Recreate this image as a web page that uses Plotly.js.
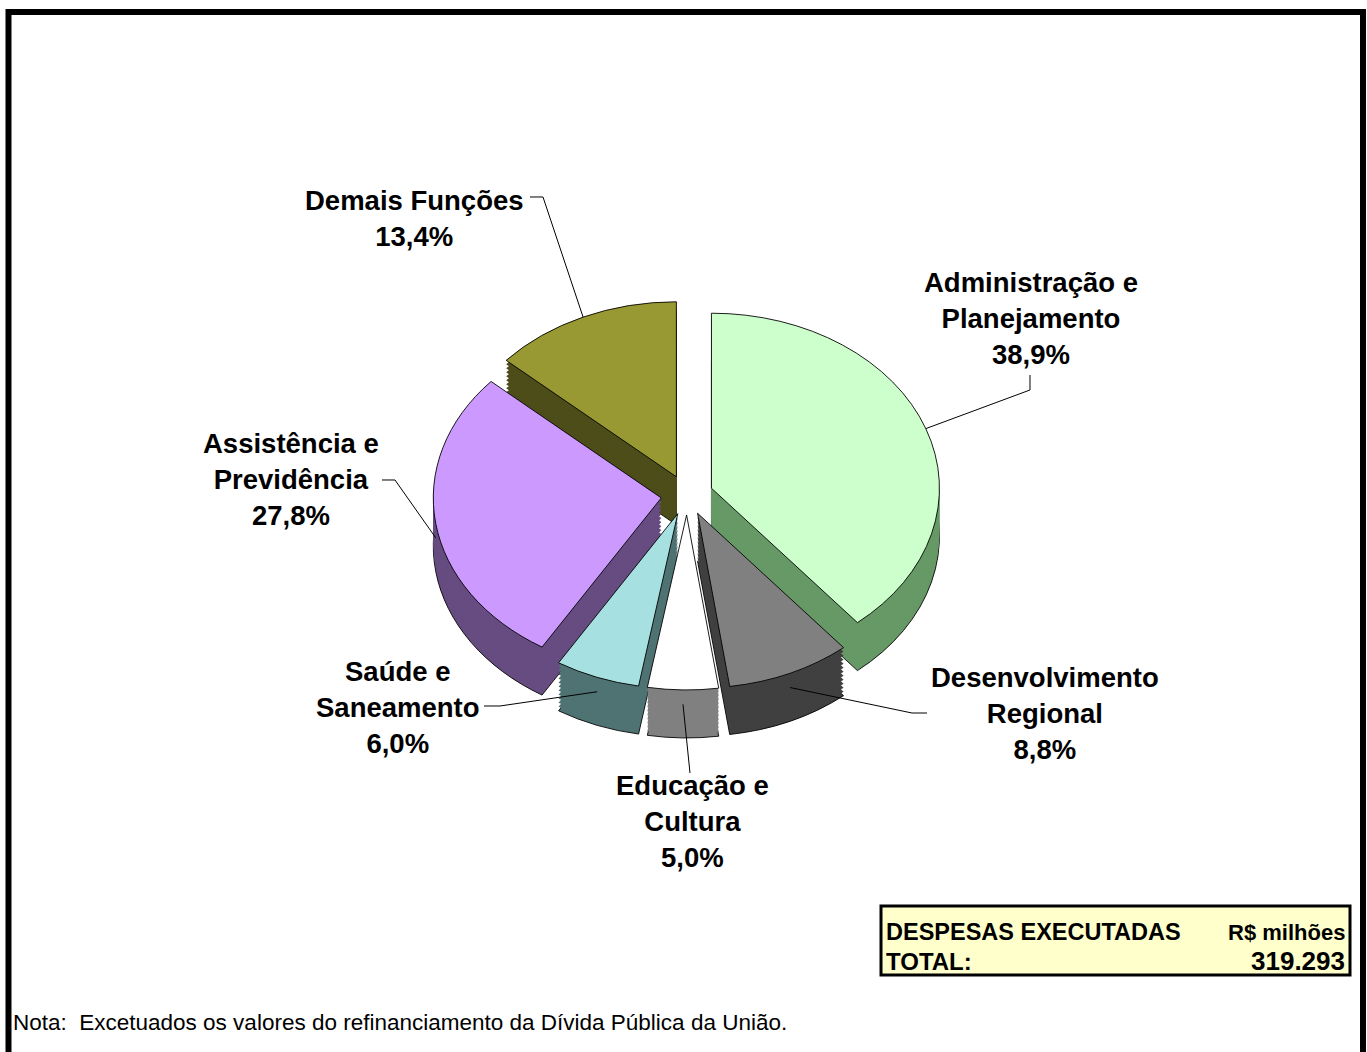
<!DOCTYPE html>
<html><head><meta charset="utf-8">
<script src="https://cdn.plot.ly/plotly-3.0.1.min.js"></script>
<style>html,body{margin:0;padding:0;background:#fff;overflow:hidden}</style>
</head><body>
<div id="chart" style="width:1367px;height:1052px"></div>
<script>
// ---------------- DATA ----------------
const categories = ['Administração e Planejamento','Desenvolvimento Regional','Educação e Cultura','Saúde e Saneamento','Assistência e Previdência','Demais Funções'];
const labelLines = [['Administração e','Planejamento'],['Desenvolvimento','Regional'],['Educação e','Cultura'],['Saúde e','Saneamento'],['Assistência e','Previdência'],['Demais Funções']];
const shares = [38.9, 8.8, 5.0, 6.0, 27.8, 13.4];
const shareLabels = ['38,9%','8,8%','5,0%','6,0%','27,8%','13,4%'];
const tableHeader = ['DESPESAS EXECUTADAS','R$ milhões'];
const tableTotal = ['TOTAL:','319.293'];
const noteText = 'Nota:\u00A0 Excetuados os valores do refinanciamento da Dívida Pública da União.';

// ---------------- STYLE / LAYOUT ----------------
const W = 1367, H = 1052;
const topColors  = ['#CCFFCC','#808080','#FFFFFF','#A6E0E0','#CC99FF','#999933'];
const sideColors = ['#669966','#404040','#808080','#4F7373','#664C80','#4D4D1A'];
const CX = 687, CY = 495, RX = 228, RY = 175, DEPTH = 48, PULL = 0.114;
const S = RY / RX;
const BOX = 2 * RX * (1 + PULL);
const FONT = 'Liberation Sans, Arial, Helvetica, sans-serif';
// label text centres and leader start / elbow points (pixels)
const labelPos = [
  {x:1031, y:318, lead:[[1030,375],[1030,390]]},
  {x:1045, y:713, lead:[[927,713],[912,713]]},
  {x:692,  y:821, lead:[[690,773]]},
  {x:398,  y:707, lead:[[484,706],[500,706]]},
  {x:291,  y:479, lead:[[382,480],[395,480]]},
  {x:414,  y:219, lead:[[530,197],[543,197]]}
];

const px = x => x / W;
const py = y => 1 - y / H;

function pieTrace(colors, depthPx, lineW) {
  const cyU = CY + depthPx / S;
  return {
    type: 'pie',
    values: shares,
    labels: categories,
    sort: false,
    direction: 'clockwise',
    rotation: 0,
    pull: shares.map(() => PULL),
    textinfo: 'none',
    hoverinfo: 'skip',
    showlegend: false,
    marker: {colors: colors, line: {color: '#000000', width: lineW}},
    domain: {
      x: [px(CX - BOX / 2), px(CX + BOX / 2)],
      y: [py(cyU + BOX / 2), py(cyU - BOX / 2)]
    }
  };
}

const traces = [];
const NCOPY = 12;
for (let k = NCOPY; k >= 1; k--) {
  traces.push(pieTrace(sideColors, DEPTH * k / NCOPY, k === NCOPY ? 1 : 0));
}
traces.push(pieTrace(topColors, 0, 1));

// leader lines & labels
const total = shares.reduce((a, b) => a + b, 0);
const shapes = [];
const annotations = [];
let cum = 0;
shares.forEach((v, i) => {
  const th = 2 * Math.PI * (cum + v / 2) / total;
  cum += v;
  const tx = CX + (1 + PULL) * RX * Math.sin(th);
  const ty = CY - (1 + PULL) * RY * Math.cos(th) + (Math.cos(th) < 0 ? 0.3 * DEPTH : 0);
  const pts = labelPos[i].lead.concat([[tx, ty]]);
  const path = pts.map((p, j) => (j ? 'L' : 'M') + px(p[0]).toFixed(5) + ',' + py(p[1]).toFixed(5)).join(' ');
  shapes.push({type: 'path', xref: 'paper', yref: 'paper', path: path, line: {color: '#000000', width: 1}});
  annotations.push({
    xref: 'paper', yref: 'paper', x: px(labelPos[i].x), y: py(labelPos[i].y),
    xanchor: 'center', yanchor: 'middle', showarrow: false, align: 'center',
    text: labelLines[i].map(s => '<b>' + s + '</b>').join('<br>') + '<br><b>' + shareLabels[i] + '</b>',
    font: {family: FONT, size: 27.5, color: '#000000'}
  });
});

// frame
shapes.push({type: 'rect', xref: 'paper', yref: 'paper', x0: px(8.5), x1: px(1363), y0: py(1070), y1: py(12),
  line: {color: '#000000', width: 6}, fillcolor: 'rgba(0,0,0,0)'});
// table box
shapes.push({type: 'rect', xref: 'paper', yref: 'paper', x0: px(881), x1: px(1350), y0: py(975), y1: py(906),
  line: {color: '#000000', width: 3}, fillcolor: '#FFFFCC'});

annotations.push({xref:'paper', yref:'paper', x:px(884), y:py(932), xanchor:'left', yanchor:'middle', showarrow:false,
  text:'<b>' + tableHeader[0] + '</b>', font:{family:FONT, size:23.5, color:'#000'}});
annotations.push({xref:'paper', yref:'paper', x:px(1347), y:py(932), xanchor:'right', yanchor:'middle', showarrow:false,
  text:'<b>' + tableHeader[1] + '</b>', font:{family:FONT, size:22, color:'#000'}});
annotations.push({xref:'paper', yref:'paper', x:px(884), y:py(961), xanchor:'left', yanchor:'middle', showarrow:false,
  text:'<b>' + tableTotal[0] + '</b>', font:{family:FONT, size:24, color:'#000'}});
annotations.push({xref:'paper', yref:'paper', x:px(1347), y:py(961), xanchor:'right', yanchor:'middle', showarrow:false,
  text:'<b>' + tableTotal[1] + '</b>', font:{family:FONT, size:26, color:'#000'}});
annotations.push({xref:'paper', yref:'paper', x:px(11), y:py(1022), xanchor:'left', yanchor:'middle', showarrow:false,
  text: noteText, font:{family:FONT, size:22.5, color:'#000'}});

const layout = {
  width: W, height: H,
  margin: {l: 0, r: 0, t: 0, b: 0, pad: 0},
  paper_bgcolor: '#FFFFFF', plot_bgcolor: '#FFFFFF',
  showlegend: false,
  shapes: shapes,
  annotations: annotations
};

Plotly.newPlot('chart', traces, layout, {staticPlot: true, displayModeBar: false}).then(gd => {
  const pl = gd.querySelector('.pielayer');
  if (pl) pl.setAttribute('transform', 'translate(0,' + (CY * (1 - S)) + ') scale(1,' + S + ')');
});
</script>
</body></html>
